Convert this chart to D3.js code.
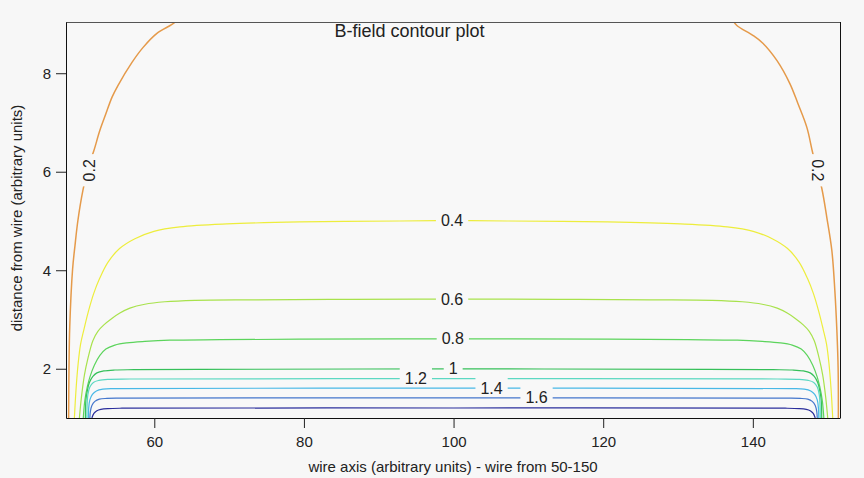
<!DOCTYPE html>
<html>
<head>
<meta charset="utf-8">
<script src="https://cdn.jsdelivr.net/npm/d3@7"></script>
<style>
  body { margin: 0; background: #f7f7f7; }
  text { font-family: "Liberation Sans", Arial, sans-serif; fill: #222; }
</style>
</head>
<body>
<div id="my_dataviz"></div>
<script>
// contour levels of the field
var levels = [0.2, 0.4, 0.6, 0.8, 1.0, 1.2, 1.4, 1.6, 1.8];

// contour lines, [wire axis, distance]
var contour02Left = [[48.55,1.00],[48.6,2.0],[48.7,2.85],[49.08,4.02],[49.4,4.5],[49.79,5.01],[50.46,5.62],[51.2,6.1],[51.93,6.43],[52.73,6.84],[53.54,7.18],[54.34,7.51],[55.14,7.75],[57.02,8.22],[58.48,8.52],[60.35,8.81],[62.36,8.99],[63.1,9.08]];
var contour02Right = [[137.3,9.08],[137.86,8.97],[140.0,8.77],[141.34,8.61],[143.21,8.26],[144.95,7.79],[146.01,7.39],[147.22,6.90],[148.02,6.37],[149.22,5.66],[149.89,5.07],[150.56,4.40],[150.96,3.59],[151.23,2.78],[151.4,2.0],[151.43,1.0]];
var contour04 = [[49.32,1.00],[49.55,1.60],[49.82,2.10],[50.15,2.50],[50.6,2.80],[51.15,3.14],[51.91,3.53],[52.69,3.83],[53.80,4.16],[55.36,4.44],[57.41,4.64],[59.95,4.79],[63.43,4.88],[69.70,4.94],[79.46,4.98],[92.82,5.00],[100,5.01],
  [107.18,5.00],[120.54,4.98],[130.30,4.94],[136.57,4.88],[140.05,4.79],[142.59,4.64],[144.64,4.44],[146.20,4.16],[147.31,3.83],[148.09,3.53],[148.85,3.14],[149.4,2.80],[149.85,2.50],[150.18,2.10],[150.45,1.60],[150.68,1.00]];
var contour06 = [[49.99,1.00],[50.26,1.42],[50.66,1.87],[51.13,2.21],[51.79,2.57],[52.46,2.76],[53.26,2.89],[54.33,3.02],[55.40,3.13],[56.74,3.23],[58.74,3.31],[61.41,3.36],[65.43,3.39],[73.71,3.40],[86.14,3.41],[100,3.414],
  [113.86,3.41],[126.29,3.40],[134.57,3.39],[138.59,3.36],[141.26,3.31],[143.26,3.23],[144.60,3.13],[145.67,3.02],[146.74,2.89],[147.54,2.76],[148.21,2.57],[148.87,2.21],[149.34,1.87],[149.74,1.42],[150.01,1.00]];
var contour08 = [[50.51,1.00],[50.72,1.36],[51.06,1.64],[51.39,1.83],[51.99,2.07],[52.73,2.27],[53.53,2.40],[54.73,2.48],[56.34,2.525],[58.74,2.555],[62.08,2.58],[68.76,2.59],[79.46,2.60],[100,2.606],
  [120.54,2.60],[131.24,2.59],[137.92,2.58],[141.26,2.555],[143.66,2.525],[145.27,2.48],[146.47,2.40],[147.27,2.27],[148.01,2.07],[148.61,1.83],[148.94,1.64],[149.28,1.36],[149.49,1.00]];
var contour10 = [[50.79,1.00],[50.86,1.36],[51.06,1.56],[51.33,1.72],[51.79,1.845],[52.33,1.916],[53.26,1.956],[54.73,1.975],[57.27,1.981],[66.09,1.987],[100,1.997],
  [133.91,1.987],[142.73,1.981],[145.27,1.975],[146.74,1.956],[147.67,1.916],[148.21,1.845],[148.67,1.72],[148.94,1.56],[149.14,1.36],[149.21,1.00]];
var contour12 = [[50.99,1.00],[51.02,1.256],[51.13,1.479],[51.39,1.631],[51.86,1.723],[52.60,1.763],[53.80,1.784],[56.74,1.792],[100,1.798],
  [143.26,1.792],[146.20,1.784],[147.40,1.763],[148.14,1.723],[148.61,1.631],[148.87,1.479],[148.98,1.256],[149.01,1.00]];
var contour14 = [[51.19,1.00],[51.23,1.195],[51.39,1.368],[51.73,1.479],[52.26,1.550],[53.13,1.585],[54.73,1.597],[100,1.605],
  [145.27,1.597],[146.87,1.585],[147.74,1.550],[148.27,1.479],[148.61,1.368],[148.77,1.195],[148.81,1.00]];
var contour16 = [[51.39,1.00],[51.46,1.134],[51.66,1.256],[52.06,1.337],[52.66,1.382],[53.67,1.398],[55.40,1.404],[100,1.410],
  [144.60,1.404],[146.33,1.398],[147.34,1.382],[147.94,1.337],[148.34,1.256],[148.54,1.134],[148.61,1.00]];
var contour18 = [[51.66,1.00],[51.93,1.093],[52.33,1.148],[52.86,1.175],[53.80,1.191],[55.67,1.199],[100,1.203],
  [144.33,1.199],[146.20,1.191],[147.14,1.175],[147.67,1.148],[148.07,1.093],[148.34,1.00]];

// contour labels
var labelText = ["0.2", "0.2", "0.4", "0.6", "0.8", "1", "1.2", "1.4", "1.6"];
var labelX = [51.39, 148.69, 99.8, 99.8, 99.9, 99.95, 94.96, 105.08, 111.09];
var labelY = [6.03, 6.03, 5.01, 3.41, 2.61, 2.00, 1.80, 1.607, 1.41];

var xTicks = [60, 80, 100, 120, 140];
var yTicks = [2, 4, 6, 8];

var lines = [
  {level: 0.2, pts: contour02Left},
  {level: 0.2, pts: contour02Right},
  {level: 0.4, pts: contour04},
  {level: 0.6, pts: contour06},
  {level: 0.8, pts: contour08},
  {level: 1.0, pts: contour10},
  {level: 1.2, pts: contour12},
  {level: 1.4, pts: contour14},
  {level: 1.6, pts: contour16},
  {level: 1.8, pts: contour18}
];

// размеры
var margin = {top: 22, right: 24, bottom: 60, left: 66},
  width = 864 - margin.left - margin.right,
  height = 478 - margin.top - margin.bottom;

var svg = d3.select("#my_dataviz")
  .append("svg")
  .attr("width", 864)
  .attr("height", 478)
  .style("display", "block")
  .append("g")
  .attr("transform", "translate(" + margin.left + "," + margin.top + ")");

var x = d3.scaleLinear().domain([48.2, 151.65]).range([0, width]);
var y = d3.scaleLinear().domain([1, 9.04]).range([height, 0]);

var lineColor = d3.scaleOrdinal()
  .domain(levels)
  .range(["#e59a4a", "#eded3c", "#a8e24c", "#5cd45c", "#36c05a", "#5cd8c2", "#48b8e6", "#4476cc", "#2a2e9c"]);

svg.append("rect")
  .attr("width", width)
  .attr("height", height)
  .attr("fill", "#f8f8f8");

svg.append("clipPath").attr("id", "clip")
  .append("rect").attr("width", width).attr("height", height);

var line = d3.line()
  .x(function(d) { return x(d[0]); })
  .y(function(d) { return y(d[1]); })
  .curve(d3.curveCatmullRom.alpha(0.5));

var plot = svg.append("g").attr("clip-path", "url(#clip)");

plot.selectAll(".contour")
  .data(lines)
  .enter()
  .append("path")
  .attr("class", "contour")
  .attr("d", function(d) { return line(d.pts); })
  .attr("fill", "none")
  .attr("stroke", function(d) { return lineColor(d.level); })
  .attr("stroke-width", function(d) { return d.level == 0.2 ? 1.5 : 1.2; });

// подписи уровней с фоном, который прерывает линии
labelText.forEach(function(t, i) {
  var angle = 0;
  if (t == "0.2") angle = labelX[i] < 100 ? -90 : 90;
  var g = plot.append("g")
    .attr("transform", "translate(" + x(labelX[i]) + "," + y(labelY[i]) + ") rotate(" + angle + ")");
  var rect = g.append("rect").attr("fill", "#f8f8f8");
  var txt = g.append("text")
    .attr("text-anchor", "middle")
    .attr("dy", "0.35em")
    .style("font-size", "16px")
    .text(t);
  var w = txt.node().getComputedTextLength();
  rect.attr("x", -w / 2 - 5).attr("y", -11).attr("width", w + 10).attr("height", 19);
});

// рамка
svg.append("line")
  .attr("x1", 0).attr("x2", width).attr("y1", 0.5).attr("y2", 0.5)
  .attr("stroke", "#555");
svg.append("line")
  .attr("x1", width + 0.5).attr("x2", width + 0.5).attr("y1", 0).attr("y2", height)
  .attr("stroke", "#111");

var xAxis = svg.append("g")
  .attr("transform", "translate(0," + height + ")")
  .call(d3.axisBottom(x).tickValues(xTicks).tickSize(10).tickSizeOuter(0).tickPadding(8));
var yAxis = svg.append("g")
  .call(d3.axisLeft(y).tickValues(yTicks).tickSize(10).tickSizeOuter(0).tickPadding(5));

svg.selectAll(".tick text").style("font-size", "15px").attr("fill", "#222");
svg.selectAll(".domain").attr("stroke", "#111");
svg.selectAll(".tick line").attr("stroke", "#222");
svg.selectAll(".tick text").style("font-family", "'Liberation Sans', Arial, sans-serif");

svg.append("text")
  .attr("x", 409.5 - margin.left)
  .attr("y", 37 - margin.top)
  .attr("text-anchor", "middle")
  .style("font-size", "18px")
  .text("B-field contour plot");

svg.append("text")
  .attr("x", 453 - margin.left)
  .attr("y", 472 - margin.top)
  .attr("text-anchor", "middle")
  .style("font-size", "15px")
  .text("wire axis (arbitrary units) - wire from 50-150");

svg.append("text")
  .attr("transform", "translate(" + (22 - margin.left) + "," + (218 - margin.top) + ") rotate(-90)")
  .attr("text-anchor", "middle")
  .style("font-size", "15px")
  .text("distance from wire (arbitrary units)");
</script>
</body>
</html>
